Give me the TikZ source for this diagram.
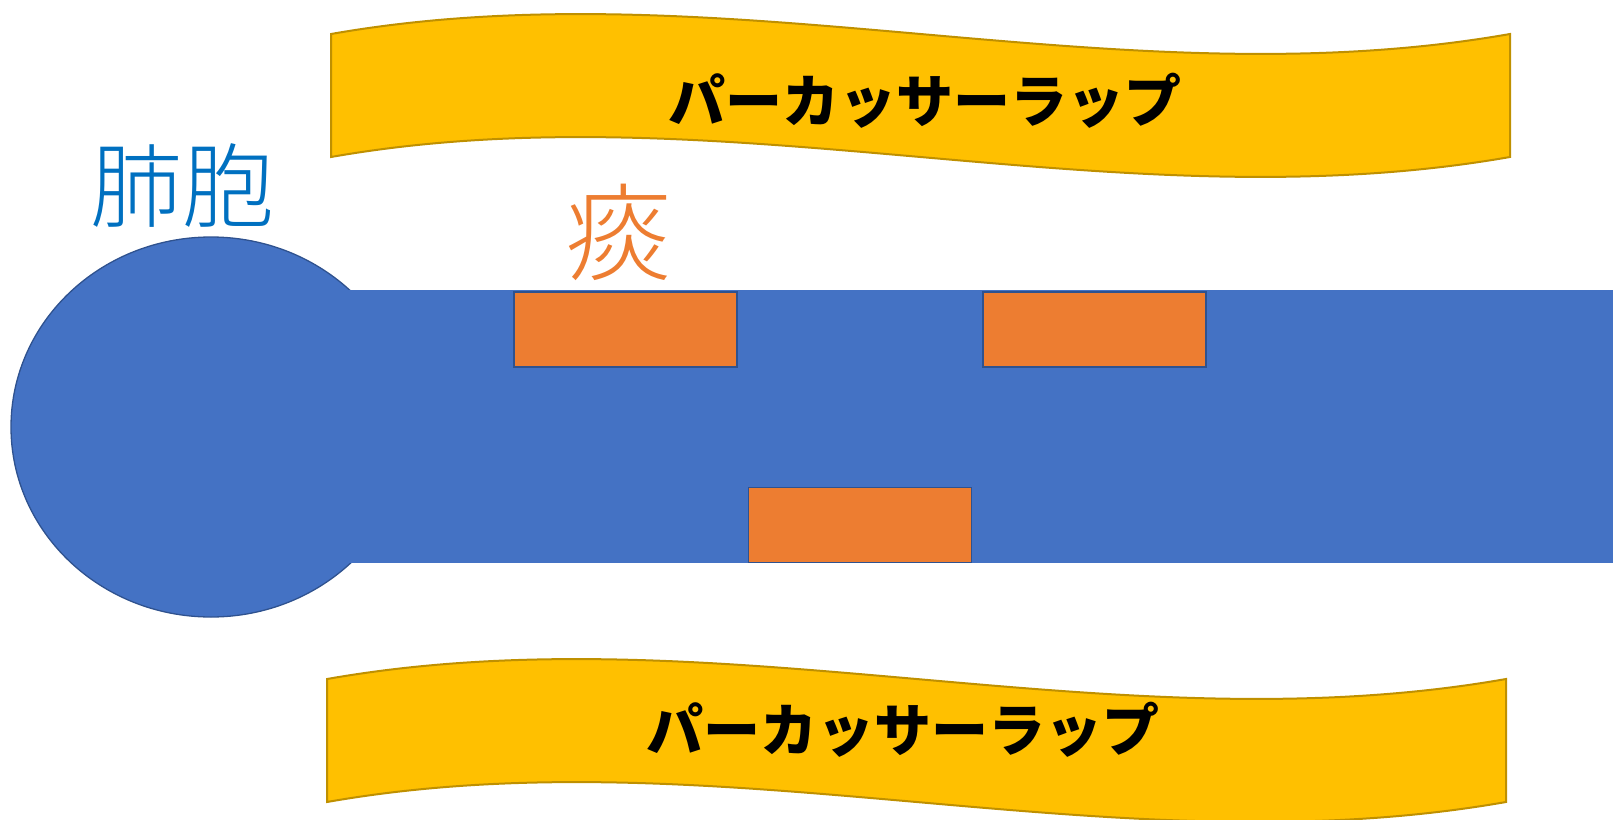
\documentclass[tikz,border=0pt]{standalone}
\usepackage{fontspec}
\newfontfamily\jp{Noto Sans CJK JP}
\newfontfamily\jplight{Noto Sans CJK JP Light}

\definecolor{tubeblue}{HTML}{4472C4}
\definecolor{edgeblue}{HTML}{2F528F}
\definecolor{labelblue}{HTML}{0070C0}
\definecolor{phlegmorange}{HTML}{ED7D31}
\definecolor{wrapgold}{HTML}{FFC000}
\definecolor{wrapedge}{HTML}{BF9000}

\begin{document}
\begin{tikzpicture}[x=1pt,y=-1pt]
        \tikzstyle{every node}=[inner sep=0pt]
        \tikzstyle{phlegm}=[draw=edgeblue,line width=1.8pt,fill=phlegmorange,minimum width=223pt,minimum height=75pt]
        \tikzstyle{wrap}=[draw=wrapedge,line width=2pt,fill=wrapgold]
        \useasboundingbox (0,0) rectangle (1613,819);
        \clip (0,0) rectangle (1613,819);

        % alveolus and airway
        \draw [draw=edgeblue,line width=1.3pt,fill=tubeblue] (211,427) ellipse [x radius=200,y radius=190];
        \fill [tubeblue] (330,290) rectangle (1613,563);

        % phlegm
        \node[phlegm] (phlegmA) at (625.5,329.5) {};
        \node[phlegm] (phlegmB) at (1094.5,329.5) {};
        \node[phlegm] (phlegmC) at (860,525) {};

        % wraps above and below
        \draw [wrap] (331,34) .. controls (724,-35) and (1117,103) .. (1510,34) -- (1510,157)
            .. controls (1117,226) and (724,88) .. (331,157) -- cycle;
        \draw [wrap] (327,679) .. controls (720,610) and (1113,748) .. (1506,679) -- (1506,802)
            .. controls (1113,871) and (720,733) .. (327,802) -- cycle;

        \node (wrapTop) at (925,101) {\jp\bfseries\fontsize{57}{60}\selectfont パーカッサーラップ};
        \node (wrapBottom) at (903,730) {\jp\bfseries\fontsize{57}{60}\selectfont パーカッサーラップ};

        \node[text=labelblue] (alveolus) at (182,185) {\jplight\fontsize{92}{96}\selectfont 肺胞};
        \node[text=phlegmorange] (phlegmLabel) at (618,232) {\jplight\fontsize{106}{110}\selectfont 痰};
\end{tikzpicture}
\end{document}
